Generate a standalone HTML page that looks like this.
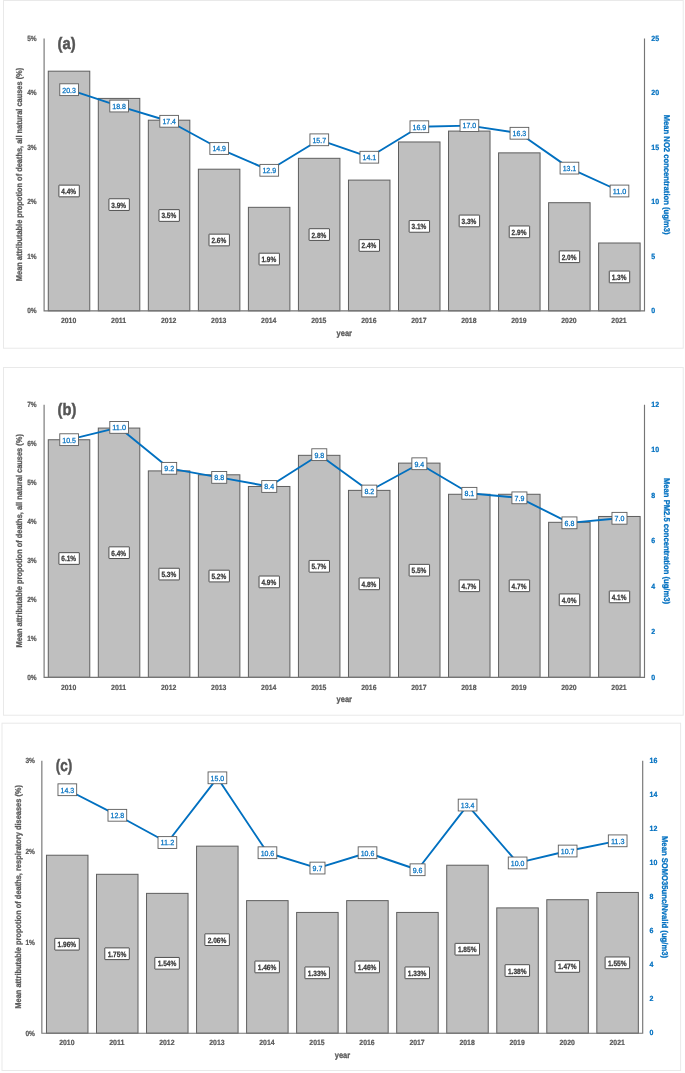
<!DOCTYPE html>
<html><head><meta charset="utf-8"><title>chart</title>
<style>
html,body{margin:0;padding:0;background:#fff;}
body{width:685px;height:1073px;overflow:hidden;font-family:"Liberation Sans",sans-serif;}
svg{display:block;will-change:transform;opacity:0.999;text-rendering:geometricPrecision;filter:blur(0.35px);}
</style></head><body>
<svg width="685" height="1073" viewBox="0 0 685 1073">
<rect x="0" y="0" width="685" height="1073" fill="#ffffff"/>
<rect x="3.5" y="0.5" width="679.7" height="347.7" fill="#fff" stroke="#e9e9e9" stroke-width="1"/>
<rect x="48.27" y="71.18" width="41.5" height="239.62" fill="#bfbfbf" stroke="#5e5e5e" stroke-width="1"/>
<rect x="98.30" y="98.41" width="41.5" height="212.39" fill="#bfbfbf" stroke="#5e5e5e" stroke-width="1"/>
<rect x="148.33" y="120.19" width="41.5" height="190.61" fill="#bfbfbf" stroke="#5e5e5e" stroke-width="1"/>
<rect x="198.37" y="169.20" width="41.5" height="141.60" fill="#bfbfbf" stroke="#5e5e5e" stroke-width="1"/>
<rect x="248.40" y="207.33" width="41.5" height="103.47" fill="#bfbfbf" stroke="#5e5e5e" stroke-width="1"/>
<rect x="298.43" y="158.31" width="41.5" height="152.49" fill="#bfbfbf" stroke="#5e5e5e" stroke-width="1"/>
<rect x="348.47" y="180.10" width="41.5" height="130.70" fill="#bfbfbf" stroke="#5e5e5e" stroke-width="1"/>
<rect x="398.50" y="141.97" width="41.5" height="168.83" fill="#bfbfbf" stroke="#5e5e5e" stroke-width="1"/>
<rect x="448.53" y="131.08" width="41.5" height="179.72" fill="#bfbfbf" stroke="#5e5e5e" stroke-width="1"/>
<rect x="498.57" y="152.87" width="41.5" height="157.93" fill="#bfbfbf" stroke="#5e5e5e" stroke-width="1"/>
<rect x="548.60" y="202.70" width="41.5" height="108.10" fill="#bfbfbf" stroke="#5e5e5e" stroke-width="1"/>
<rect x="598.63" y="243.00" width="41.5" height="67.80" fill="#bfbfbf" stroke="#5e5e5e" stroke-width="1"/>
<path d="M44.10 38.50V310.80H644.50V38.50" fill="none" stroke="#757575" stroke-width="1.15"/>
<polyline points="69.12,89.69 119.15,106.03 169.18,121.28 219.22,148.51 269.25,170.29 319.28,139.80 369.32,157.22 419.35,126.73 469.38,125.64 519.42,133.26 569.45,168.11 619.48,190.99" fill="none" stroke="#0070C0" stroke-width="1.9" stroke-linejoin="round" stroke-linecap="round"/>
<rect x="58.92" y="185.14" width="20.4" height="11.7" rx="0.3" fill="#fff" stroke="#484848" stroke-width="0.95"/>
<text x="68.72" y="193.94" font-family="Liberation Sans, sans-serif" font-size="7.7" font-weight="bold" fill="#383838" stroke="#383838" stroke-width="0.25" text-anchor="middle" textLength="14.8" lengthAdjust="spacingAndGlyphs">4.4%</text>
<rect x="108.95" y="198.75" width="20.4" height="11.7" rx="0.3" fill="#fff" stroke="#484848" stroke-width="0.95"/>
<text x="118.75" y="207.55" font-family="Liberation Sans, sans-serif" font-size="7.7" font-weight="bold" fill="#383838" stroke="#383838" stroke-width="0.25" text-anchor="middle" textLength="14.8" lengthAdjust="spacingAndGlyphs">3.9%</text>
<rect x="158.98" y="209.65" width="20.4" height="11.7" rx="0.3" fill="#fff" stroke="#484848" stroke-width="0.95"/>
<text x="168.78" y="218.44" font-family="Liberation Sans, sans-serif" font-size="7.7" font-weight="bold" fill="#383838" stroke="#383838" stroke-width="0.25" text-anchor="middle" textLength="14.8" lengthAdjust="spacingAndGlyphs">3.5%</text>
<rect x="209.02" y="234.15" width="20.4" height="11.7" rx="0.3" fill="#fff" stroke="#484848" stroke-width="0.95"/>
<text x="218.82" y="242.95" font-family="Liberation Sans, sans-serif" font-size="7.7" font-weight="bold" fill="#383838" stroke="#383838" stroke-width="0.25" text-anchor="middle" textLength="14.8" lengthAdjust="spacingAndGlyphs">2.6%</text>
<rect x="259.05" y="253.21" width="20.4" height="11.7" rx="0.3" fill="#fff" stroke="#484848" stroke-width="0.95"/>
<text x="268.85" y="262.01" font-family="Liberation Sans, sans-serif" font-size="7.7" font-weight="bold" fill="#383838" stroke="#383838" stroke-width="0.25" text-anchor="middle" textLength="14.8" lengthAdjust="spacingAndGlyphs">1.9%</text>
<rect x="309.08" y="228.71" width="20.4" height="11.7" rx="0.3" fill="#fff" stroke="#484848" stroke-width="0.95"/>
<text x="318.88" y="237.51" font-family="Liberation Sans, sans-serif" font-size="7.7" font-weight="bold" fill="#383838" stroke="#383838" stroke-width="0.25" text-anchor="middle" textLength="14.8" lengthAdjust="spacingAndGlyphs">2.8%</text>
<rect x="359.12" y="239.60" width="20.4" height="11.7" rx="0.3" fill="#fff" stroke="#484848" stroke-width="0.95"/>
<text x="368.92" y="248.40" font-family="Liberation Sans, sans-serif" font-size="7.7" font-weight="bold" fill="#383838" stroke="#383838" stroke-width="0.25" text-anchor="middle" textLength="14.8" lengthAdjust="spacingAndGlyphs">2.4%</text>
<rect x="409.15" y="220.54" width="20.4" height="11.7" rx="0.3" fill="#fff" stroke="#484848" stroke-width="0.95"/>
<text x="418.95" y="229.34" font-family="Liberation Sans, sans-serif" font-size="7.7" font-weight="bold" fill="#383838" stroke="#383838" stroke-width="0.25" text-anchor="middle" textLength="14.8" lengthAdjust="spacingAndGlyphs">3.1%</text>
<rect x="459.18" y="215.09" width="20.4" height="11.7" rx="0.3" fill="#fff" stroke="#484848" stroke-width="0.95"/>
<text x="468.98" y="223.89" font-family="Liberation Sans, sans-serif" font-size="7.7" font-weight="bold" fill="#383838" stroke="#383838" stroke-width="0.25" text-anchor="middle" textLength="14.8" lengthAdjust="spacingAndGlyphs">3.3%</text>
<rect x="509.22" y="225.98" width="20.4" height="11.7" rx="0.3" fill="#fff" stroke="#484848" stroke-width="0.95"/>
<text x="519.02" y="234.78" font-family="Liberation Sans, sans-serif" font-size="7.7" font-weight="bold" fill="#383838" stroke="#383838" stroke-width="0.25" text-anchor="middle" textLength="14.8" lengthAdjust="spacingAndGlyphs">2.9%</text>
<rect x="559.25" y="250.90" width="20.4" height="11.7" rx="0.3" fill="#fff" stroke="#484848" stroke-width="0.95"/>
<text x="569.05" y="259.70" font-family="Liberation Sans, sans-serif" font-size="7.7" font-weight="bold" fill="#383838" stroke="#383838" stroke-width="0.25" text-anchor="middle" textLength="14.8" lengthAdjust="spacingAndGlyphs">2.0%</text>
<rect x="609.28" y="271.05" width="20.4" height="11.7" rx="0.3" fill="#fff" stroke="#484848" stroke-width="0.95"/>
<text x="619.08" y="279.85" font-family="Liberation Sans, sans-serif" font-size="7.7" font-weight="bold" fill="#383838" stroke="#383838" stroke-width="0.25" text-anchor="middle" textLength="14.8" lengthAdjust="spacingAndGlyphs">1.3%</text>
<rect x="59.77" y="83.79" width="18.7" height="11.8" fill="#fff" stroke="#5c5c5c" stroke-width="0.9"/>
<text x="69.12" y="92.54" font-family="Liberation Sans, sans-serif" font-size="7.4" fill="#0070C0" stroke="#0070C0" stroke-width="0.25" text-anchor="middle" textLength="13.6" lengthAdjust="spacingAndGlyphs">20.3</text>
<rect x="109.80" y="100.13" width="18.7" height="11.8" fill="#fff" stroke="#5c5c5c" stroke-width="0.9"/>
<text x="119.15" y="108.88" font-family="Liberation Sans, sans-serif" font-size="7.4" fill="#0070C0" stroke="#0070C0" stroke-width="0.25" text-anchor="middle" textLength="13.6" lengthAdjust="spacingAndGlyphs">18.8</text>
<rect x="159.83" y="115.38" width="18.7" height="11.8" fill="#fff" stroke="#5c5c5c" stroke-width="0.9"/>
<text x="169.18" y="124.13" font-family="Liberation Sans, sans-serif" font-size="7.4" fill="#0070C0" stroke="#0070C0" stroke-width="0.25" text-anchor="middle" textLength="13.6" lengthAdjust="spacingAndGlyphs">17.4</text>
<rect x="209.87" y="142.61" width="18.7" height="11.8" fill="#fff" stroke="#5c5c5c" stroke-width="0.9"/>
<text x="219.22" y="151.36" font-family="Liberation Sans, sans-serif" font-size="7.4" fill="#0070C0" stroke="#0070C0" stroke-width="0.25" text-anchor="middle" textLength="13.6" lengthAdjust="spacingAndGlyphs">14.9</text>
<rect x="259.90" y="164.39" width="18.7" height="11.8" fill="#fff" stroke="#5c5c5c" stroke-width="0.9"/>
<text x="269.25" y="173.14" font-family="Liberation Sans, sans-serif" font-size="7.4" fill="#0070C0" stroke="#0070C0" stroke-width="0.25" text-anchor="middle" textLength="13.6" lengthAdjust="spacingAndGlyphs">12.9</text>
<rect x="309.93" y="133.90" width="18.7" height="11.8" fill="#fff" stroke="#5c5c5c" stroke-width="0.9"/>
<text x="319.28" y="142.65" font-family="Liberation Sans, sans-serif" font-size="7.4" fill="#0070C0" stroke="#0070C0" stroke-width="0.25" text-anchor="middle" textLength="13.6" lengthAdjust="spacingAndGlyphs">15.7</text>
<rect x="359.97" y="151.32" width="18.7" height="11.8" fill="#fff" stroke="#5c5c5c" stroke-width="0.9"/>
<text x="369.32" y="160.07" font-family="Liberation Sans, sans-serif" font-size="7.4" fill="#0070C0" stroke="#0070C0" stroke-width="0.25" text-anchor="middle" textLength="13.6" lengthAdjust="spacingAndGlyphs">14.1</text>
<rect x="410.00" y="120.83" width="18.7" height="11.8" fill="#fff" stroke="#5c5c5c" stroke-width="0.9"/>
<text x="419.35" y="129.58" font-family="Liberation Sans, sans-serif" font-size="7.4" fill="#0070C0" stroke="#0070C0" stroke-width="0.25" text-anchor="middle" textLength="13.6" lengthAdjust="spacingAndGlyphs">16.9</text>
<rect x="460.03" y="119.74" width="18.7" height="11.8" fill="#fff" stroke="#5c5c5c" stroke-width="0.9"/>
<text x="469.38" y="128.49" font-family="Liberation Sans, sans-serif" font-size="7.4" fill="#0070C0" stroke="#0070C0" stroke-width="0.25" text-anchor="middle" textLength="13.6" lengthAdjust="spacingAndGlyphs">17.0</text>
<rect x="510.07" y="127.36" width="18.7" height="11.8" fill="#fff" stroke="#5c5c5c" stroke-width="0.9"/>
<text x="519.42" y="136.11" font-family="Liberation Sans, sans-serif" font-size="7.4" fill="#0070C0" stroke="#0070C0" stroke-width="0.25" text-anchor="middle" textLength="13.6" lengthAdjust="spacingAndGlyphs">16.3</text>
<rect x="560.10" y="162.21" width="18.7" height="11.8" fill="#fff" stroke="#5c5c5c" stroke-width="0.9"/>
<text x="569.45" y="170.96" font-family="Liberation Sans, sans-serif" font-size="7.4" fill="#0070C0" stroke="#0070C0" stroke-width="0.25" text-anchor="middle" textLength="13.6" lengthAdjust="spacingAndGlyphs">13.1</text>
<rect x="610.13" y="185.09" width="18.7" height="11.8" fill="#fff" stroke="#5c5c5c" stroke-width="0.9"/>
<text x="619.48" y="193.84" font-family="Liberation Sans, sans-serif" font-size="7.4" fill="#0070C0" stroke="#0070C0" stroke-width="0.25" text-anchor="middle" textLength="13.6" lengthAdjust="spacingAndGlyphs">11.0</text>
<text x="36.70" y="313.30" font-family="Liberation Sans, sans-serif" font-size="7.5" font-weight="bold" fill="#595959" stroke="#595959" stroke-width="0.22" text-anchor="end" textLength="9.5" lengthAdjust="spacingAndGlyphs">0%</text>
<text x="36.70" y="258.84" font-family="Liberation Sans, sans-serif" font-size="7.5" font-weight="bold" fill="#595959" stroke="#595959" stroke-width="0.22" text-anchor="end" textLength="9.5" lengthAdjust="spacingAndGlyphs">1%</text>
<text x="36.70" y="204.38" font-family="Liberation Sans, sans-serif" font-size="7.5" font-weight="bold" fill="#595959" stroke="#595959" stroke-width="0.22" text-anchor="end" textLength="9.5" lengthAdjust="spacingAndGlyphs">2%</text>
<text x="36.70" y="149.92" font-family="Liberation Sans, sans-serif" font-size="7.5" font-weight="bold" fill="#595959" stroke="#595959" stroke-width="0.22" text-anchor="end" textLength="9.5" lengthAdjust="spacingAndGlyphs">3%</text>
<text x="36.70" y="95.46" font-family="Liberation Sans, sans-serif" font-size="7.5" font-weight="bold" fill="#595959" stroke="#595959" stroke-width="0.22" text-anchor="end" textLength="9.5" lengthAdjust="spacingAndGlyphs">4%</text>
<text x="36.70" y="41.00" font-family="Liberation Sans, sans-serif" font-size="7.5" font-weight="bold" fill="#595959" stroke="#595959" stroke-width="0.22" text-anchor="end" textLength="9.5" lengthAdjust="spacingAndGlyphs">5%</text>
<text x="651.30" y="313.05" font-family="Liberation Sans, sans-serif" font-size="7.5" font-weight="bold" fill="#0070C0" stroke="#0070C0" stroke-width="0.22" textLength="3.9" lengthAdjust="spacingAndGlyphs">0</text>
<text x="651.30" y="258.59" font-family="Liberation Sans, sans-serif" font-size="7.5" font-weight="bold" fill="#0070C0" stroke="#0070C0" stroke-width="0.22" textLength="3.9" lengthAdjust="spacingAndGlyphs">5</text>
<text x="651.30" y="204.13" font-family="Liberation Sans, sans-serif" font-size="7.5" font-weight="bold" fill="#0070C0" stroke="#0070C0" stroke-width="0.22" textLength="7.8" lengthAdjust="spacingAndGlyphs">10</text>
<text x="651.30" y="149.67" font-family="Liberation Sans, sans-serif" font-size="7.5" font-weight="bold" fill="#0070C0" stroke="#0070C0" stroke-width="0.22" textLength="7.8" lengthAdjust="spacingAndGlyphs">15</text>
<text x="651.30" y="95.21" font-family="Liberation Sans, sans-serif" font-size="7.5" font-weight="bold" fill="#0070C0" stroke="#0070C0" stroke-width="0.22" textLength="7.8" lengthAdjust="spacingAndGlyphs">20</text>
<text x="651.30" y="40.75" font-family="Liberation Sans, sans-serif" font-size="7.5" font-weight="bold" fill="#0070C0" stroke="#0070C0" stroke-width="0.22" textLength="7.8" lengthAdjust="spacingAndGlyphs">25</text>
<text x="68.62" y="323.00" font-family="Liberation Sans, sans-serif" font-size="7.5" font-weight="bold" fill="#595959" stroke="#595959" stroke-width="0.22" text-anchor="middle" textLength="15.3" lengthAdjust="spacingAndGlyphs">2010</text>
<text x="118.65" y="323.00" font-family="Liberation Sans, sans-serif" font-size="7.5" font-weight="bold" fill="#595959" stroke="#595959" stroke-width="0.22" text-anchor="middle" textLength="15.3" lengthAdjust="spacingAndGlyphs">2011</text>
<text x="168.68" y="323.00" font-family="Liberation Sans, sans-serif" font-size="7.5" font-weight="bold" fill="#595959" stroke="#595959" stroke-width="0.22" text-anchor="middle" textLength="15.3" lengthAdjust="spacingAndGlyphs">2012</text>
<text x="218.72" y="323.00" font-family="Liberation Sans, sans-serif" font-size="7.5" font-weight="bold" fill="#595959" stroke="#595959" stroke-width="0.22" text-anchor="middle" textLength="15.3" lengthAdjust="spacingAndGlyphs">2013</text>
<text x="268.75" y="323.00" font-family="Liberation Sans, sans-serif" font-size="7.5" font-weight="bold" fill="#595959" stroke="#595959" stroke-width="0.22" text-anchor="middle" textLength="15.3" lengthAdjust="spacingAndGlyphs">2014</text>
<text x="318.78" y="323.00" font-family="Liberation Sans, sans-serif" font-size="7.5" font-weight="bold" fill="#595959" stroke="#595959" stroke-width="0.22" text-anchor="middle" textLength="15.3" lengthAdjust="spacingAndGlyphs">2015</text>
<text x="368.82" y="323.00" font-family="Liberation Sans, sans-serif" font-size="7.5" font-weight="bold" fill="#595959" stroke="#595959" stroke-width="0.22" text-anchor="middle" textLength="15.3" lengthAdjust="spacingAndGlyphs">2016</text>
<text x="418.85" y="323.00" font-family="Liberation Sans, sans-serif" font-size="7.5" font-weight="bold" fill="#595959" stroke="#595959" stroke-width="0.22" text-anchor="middle" textLength="15.3" lengthAdjust="spacingAndGlyphs">2017</text>
<text x="468.88" y="323.00" font-family="Liberation Sans, sans-serif" font-size="7.5" font-weight="bold" fill="#595959" stroke="#595959" stroke-width="0.22" text-anchor="middle" textLength="15.3" lengthAdjust="spacingAndGlyphs">2018</text>
<text x="518.92" y="323.00" font-family="Liberation Sans, sans-serif" font-size="7.5" font-weight="bold" fill="#595959" stroke="#595959" stroke-width="0.22" text-anchor="middle" textLength="15.3" lengthAdjust="spacingAndGlyphs">2019</text>
<text x="568.95" y="323.00" font-family="Liberation Sans, sans-serif" font-size="7.5" font-weight="bold" fill="#595959" stroke="#595959" stroke-width="0.22" text-anchor="middle" textLength="15.3" lengthAdjust="spacingAndGlyphs">2020</text>
<text x="618.98" y="323.00" font-family="Liberation Sans, sans-serif" font-size="7.5" font-weight="bold" fill="#595959" stroke="#595959" stroke-width="0.22" text-anchor="middle" textLength="15.3" lengthAdjust="spacingAndGlyphs">2021</text>
<text x="344.30" y="335.60" font-family="Liberation Sans, sans-serif" font-size="8.4" font-weight="bold" fill="#595959" stroke="#595959" stroke-width="0.28" text-anchor="middle" textLength="15.4" lengthAdjust="spacingAndGlyphs">year</text>
<text x="57.50" y="49.00" font-family="Liberation Sans, sans-serif" font-size="16.6" font-weight="bold" fill="#555" stroke="#555" stroke-width="0.45" textLength="18.1" lengthAdjust="spacingAndGlyphs">(a)</text>
<text transform="translate(22.35 174.50) rotate(-90)" x="0" y="0" font-family="Liberation Sans, sans-serif" font-size="8.4" font-weight="bold" fill="#595959" stroke="#595959" stroke-width="0.28" text-anchor="middle" textLength="213.4" lengthAdjust="spacingAndGlyphs">Mean attributable propotion of deaths, all natural causes (%)</text>
<text transform="translate(663.70 174.65) rotate(90)" x="0" y="0" font-family="Liberation Sans, sans-serif" font-size="8.4" font-weight="bold" fill="#0070C0" stroke="#0070C0" stroke-width="0.28" text-anchor="middle" textLength="120" lengthAdjust="spacingAndGlyphs">Mean NO2 concentration (ug/m3)</text>
<rect x="3.5" y="367.5" width="679.7" height="347.7" fill="#fff" stroke="#e9e9e9" stroke-width="1"/>
<rect x="48.27" y="439.75" width="41.5" height="237.55" fill="#bfbfbf" stroke="#5e5e5e" stroke-width="1"/>
<rect x="98.30" y="428.07" width="41.5" height="249.23" fill="#bfbfbf" stroke="#5e5e5e" stroke-width="1"/>
<rect x="148.33" y="470.90" width="41.5" height="206.40" fill="#bfbfbf" stroke="#5e5e5e" stroke-width="1"/>
<rect x="198.37" y="474.80" width="41.5" height="202.50" fill="#bfbfbf" stroke="#5e5e5e" stroke-width="1"/>
<rect x="248.40" y="486.48" width="41.5" height="190.82" fill="#bfbfbf" stroke="#5e5e5e" stroke-width="1"/>
<rect x="298.43" y="455.33" width="41.5" height="221.97" fill="#bfbfbf" stroke="#5e5e5e" stroke-width="1"/>
<rect x="348.47" y="490.37" width="41.5" height="186.93" fill="#bfbfbf" stroke="#5e5e5e" stroke-width="1"/>
<rect x="398.50" y="463.11" width="41.5" height="214.19" fill="#bfbfbf" stroke="#5e5e5e" stroke-width="1"/>
<rect x="448.53" y="494.27" width="41.5" height="183.03" fill="#bfbfbf" stroke="#5e5e5e" stroke-width="1"/>
<rect x="498.57" y="494.27" width="41.5" height="183.03" fill="#bfbfbf" stroke="#5e5e5e" stroke-width="1"/>
<rect x="548.60" y="522.31" width="41.5" height="154.99" fill="#bfbfbf" stroke="#5e5e5e" stroke-width="1"/>
<rect x="598.63" y="516.47" width="41.5" height="160.83" fill="#bfbfbf" stroke="#5e5e5e" stroke-width="1"/>
<path d="M44.10 404.70V677.30H644.50V404.70" fill="none" stroke="#757575" stroke-width="1.15"/>
<polyline points="69.12,439.68 119.15,427.42 169.18,468.31 219.22,477.39 269.25,486.48 319.28,454.68 369.32,491.02 419.35,463.76 469.38,493.29 519.42,497.84 569.45,522.83 619.48,518.28" fill="none" stroke="#0070C0" stroke-width="1.9" stroke-linejoin="round" stroke-linecap="round"/>
<rect x="58.92" y="552.67" width="20.4" height="11.7" rx="0.3" fill="#fff" stroke="#484848" stroke-width="0.95"/>
<text x="68.72" y="561.47" font-family="Liberation Sans, sans-serif" font-size="7.7" font-weight="bold" fill="#383838" stroke="#383838" stroke-width="0.25" text-anchor="middle" textLength="14.8" lengthAdjust="spacingAndGlyphs">6.1%</text>
<rect x="108.95" y="546.83" width="20.4" height="11.7" rx="0.3" fill="#fff" stroke="#484848" stroke-width="0.95"/>
<text x="118.75" y="555.63" font-family="Liberation Sans, sans-serif" font-size="7.7" font-weight="bold" fill="#383838" stroke="#383838" stroke-width="0.25" text-anchor="middle" textLength="14.8" lengthAdjust="spacingAndGlyphs">6.4%</text>
<rect x="158.98" y="568.25" width="20.4" height="11.7" rx="0.3" fill="#fff" stroke="#484848" stroke-width="0.95"/>
<text x="168.78" y="577.05" font-family="Liberation Sans, sans-serif" font-size="7.7" font-weight="bold" fill="#383838" stroke="#383838" stroke-width="0.25" text-anchor="middle" textLength="14.8" lengthAdjust="spacingAndGlyphs">5.3%</text>
<rect x="209.02" y="570.20" width="20.4" height="11.7" rx="0.3" fill="#fff" stroke="#484848" stroke-width="0.95"/>
<text x="218.82" y="579.00" font-family="Liberation Sans, sans-serif" font-size="7.7" font-weight="bold" fill="#383838" stroke="#383838" stroke-width="0.25" text-anchor="middle" textLength="14.8" lengthAdjust="spacingAndGlyphs">5.2%</text>
<rect x="259.05" y="576.04" width="20.4" height="11.7" rx="0.3" fill="#fff" stroke="#484848" stroke-width="0.95"/>
<text x="268.85" y="584.84" font-family="Liberation Sans, sans-serif" font-size="7.7" font-weight="bold" fill="#383838" stroke="#383838" stroke-width="0.25" text-anchor="middle" textLength="14.8" lengthAdjust="spacingAndGlyphs">4.9%</text>
<rect x="309.08" y="560.46" width="20.4" height="11.7" rx="0.3" fill="#fff" stroke="#484848" stroke-width="0.95"/>
<text x="318.88" y="569.26" font-family="Liberation Sans, sans-serif" font-size="7.7" font-weight="bold" fill="#383838" stroke="#383838" stroke-width="0.25" text-anchor="middle" textLength="14.8" lengthAdjust="spacingAndGlyphs">5.7%</text>
<rect x="359.12" y="577.99" width="20.4" height="11.7" rx="0.3" fill="#fff" stroke="#484848" stroke-width="0.95"/>
<text x="368.92" y="586.79" font-family="Liberation Sans, sans-serif" font-size="7.7" font-weight="bold" fill="#383838" stroke="#383838" stroke-width="0.25" text-anchor="middle" textLength="14.8" lengthAdjust="spacingAndGlyphs">4.8%</text>
<rect x="409.15" y="564.36" width="20.4" height="11.7" rx="0.3" fill="#fff" stroke="#484848" stroke-width="0.95"/>
<text x="418.95" y="573.16" font-family="Liberation Sans, sans-serif" font-size="7.7" font-weight="bold" fill="#383838" stroke="#383838" stroke-width="0.25" text-anchor="middle" textLength="14.8" lengthAdjust="spacingAndGlyphs">5.5%</text>
<rect x="459.18" y="579.93" width="20.4" height="11.7" rx="0.3" fill="#fff" stroke="#484848" stroke-width="0.95"/>
<text x="468.98" y="588.73" font-family="Liberation Sans, sans-serif" font-size="7.7" font-weight="bold" fill="#383838" stroke="#383838" stroke-width="0.25" text-anchor="middle" textLength="14.8" lengthAdjust="spacingAndGlyphs">4.7%</text>
<rect x="509.22" y="579.93" width="20.4" height="11.7" rx="0.3" fill="#fff" stroke="#484848" stroke-width="0.95"/>
<text x="519.02" y="588.73" font-family="Liberation Sans, sans-serif" font-size="7.7" font-weight="bold" fill="#383838" stroke="#383838" stroke-width="0.25" text-anchor="middle" textLength="14.8" lengthAdjust="spacingAndGlyphs">4.7%</text>
<rect x="559.25" y="593.95" width="20.4" height="11.7" rx="0.3" fill="#fff" stroke="#484848" stroke-width="0.95"/>
<text x="569.05" y="602.75" font-family="Liberation Sans, sans-serif" font-size="7.7" font-weight="bold" fill="#383838" stroke="#383838" stroke-width="0.25" text-anchor="middle" textLength="14.8" lengthAdjust="spacingAndGlyphs">4.0%</text>
<rect x="609.28" y="591.03" width="20.4" height="11.7" rx="0.3" fill="#fff" stroke="#484848" stroke-width="0.95"/>
<text x="619.08" y="599.83" font-family="Liberation Sans, sans-serif" font-size="7.7" font-weight="bold" fill="#383838" stroke="#383838" stroke-width="0.25" text-anchor="middle" textLength="14.8" lengthAdjust="spacingAndGlyphs">4.1%</text>
<rect x="59.77" y="433.78" width="18.7" height="11.8" fill="#fff" stroke="#5c5c5c" stroke-width="0.9"/>
<text x="69.12" y="442.53" font-family="Liberation Sans, sans-serif" font-size="7.4" fill="#0070C0" stroke="#0070C0" stroke-width="0.25" text-anchor="middle" textLength="13.6" lengthAdjust="spacingAndGlyphs">10.5</text>
<rect x="109.80" y="421.52" width="18.7" height="11.8" fill="#fff" stroke="#5c5c5c" stroke-width="0.9"/>
<text x="119.15" y="430.27" font-family="Liberation Sans, sans-serif" font-size="7.4" fill="#0070C0" stroke="#0070C0" stroke-width="0.25" text-anchor="middle" textLength="13.6" lengthAdjust="spacingAndGlyphs">11.0</text>
<rect x="161.68" y="462.41" width="15.0" height="11.8" fill="#fff" stroke="#5c5c5c" stroke-width="0.9"/>
<text x="169.18" y="471.16" font-family="Liberation Sans, sans-serif" font-size="7.4" fill="#0070C0" stroke="#0070C0" stroke-width="0.25" text-anchor="middle" textLength="9.8" lengthAdjust="spacingAndGlyphs">9.2</text>
<rect x="211.72" y="471.49" width="15.0" height="11.8" fill="#fff" stroke="#5c5c5c" stroke-width="0.9"/>
<text x="219.22" y="480.24" font-family="Liberation Sans, sans-serif" font-size="7.4" fill="#0070C0" stroke="#0070C0" stroke-width="0.25" text-anchor="middle" textLength="9.8" lengthAdjust="spacingAndGlyphs">8.8</text>
<rect x="261.75" y="480.58" width="15.0" height="11.8" fill="#fff" stroke="#5c5c5c" stroke-width="0.9"/>
<text x="269.25" y="489.33" font-family="Liberation Sans, sans-serif" font-size="7.4" fill="#0070C0" stroke="#0070C0" stroke-width="0.25" text-anchor="middle" textLength="9.8" lengthAdjust="spacingAndGlyphs">8.4</text>
<rect x="311.78" y="448.78" width="15.0" height="11.8" fill="#fff" stroke="#5c5c5c" stroke-width="0.9"/>
<text x="319.28" y="457.53" font-family="Liberation Sans, sans-serif" font-size="7.4" fill="#0070C0" stroke="#0070C0" stroke-width="0.25" text-anchor="middle" textLength="9.8" lengthAdjust="spacingAndGlyphs">9.8</text>
<rect x="361.82" y="485.12" width="15.0" height="11.8" fill="#fff" stroke="#5c5c5c" stroke-width="0.9"/>
<text x="369.32" y="493.87" font-family="Liberation Sans, sans-serif" font-size="7.4" fill="#0070C0" stroke="#0070C0" stroke-width="0.25" text-anchor="middle" textLength="9.8" lengthAdjust="spacingAndGlyphs">8.2</text>
<rect x="411.85" y="457.86" width="15.0" height="11.8" fill="#fff" stroke="#5c5c5c" stroke-width="0.9"/>
<text x="419.35" y="466.61" font-family="Liberation Sans, sans-serif" font-size="7.4" fill="#0070C0" stroke="#0070C0" stroke-width="0.25" text-anchor="middle" textLength="9.8" lengthAdjust="spacingAndGlyphs">9.4</text>
<rect x="461.88" y="487.39" width="15.0" height="11.8" fill="#fff" stroke="#5c5c5c" stroke-width="0.9"/>
<text x="469.38" y="496.14" font-family="Liberation Sans, sans-serif" font-size="7.4" fill="#0070C0" stroke="#0070C0" stroke-width="0.25" text-anchor="middle" textLength="9.8" lengthAdjust="spacingAndGlyphs">8.1</text>
<rect x="511.92" y="491.94" width="15.0" height="11.8" fill="#fff" stroke="#5c5c5c" stroke-width="0.9"/>
<text x="519.42" y="500.69" font-family="Liberation Sans, sans-serif" font-size="7.4" fill="#0070C0" stroke="#0070C0" stroke-width="0.25" text-anchor="middle" textLength="9.8" lengthAdjust="spacingAndGlyphs">7.9</text>
<rect x="561.95" y="516.93" width="15.0" height="11.8" fill="#fff" stroke="#5c5c5c" stroke-width="0.9"/>
<text x="569.45" y="525.68" font-family="Liberation Sans, sans-serif" font-size="7.4" fill="#0070C0" stroke="#0070C0" stroke-width="0.25" text-anchor="middle" textLength="9.8" lengthAdjust="spacingAndGlyphs">6.8</text>
<rect x="611.98" y="512.38" width="15.0" height="11.8" fill="#fff" stroke="#5c5c5c" stroke-width="0.9"/>
<text x="619.48" y="521.13" font-family="Liberation Sans, sans-serif" font-size="7.4" fill="#0070C0" stroke="#0070C0" stroke-width="0.25" text-anchor="middle" textLength="9.8" lengthAdjust="spacingAndGlyphs">7.0</text>
<text x="36.70" y="679.80" font-family="Liberation Sans, sans-serif" font-size="7.5" font-weight="bold" fill="#595959" stroke="#595959" stroke-width="0.22" text-anchor="end" textLength="9.5" lengthAdjust="spacingAndGlyphs">0%</text>
<text x="36.70" y="640.86" font-family="Liberation Sans, sans-serif" font-size="7.5" font-weight="bold" fill="#595959" stroke="#595959" stroke-width="0.22" text-anchor="end" textLength="9.5" lengthAdjust="spacingAndGlyphs">1%</text>
<text x="36.70" y="601.91" font-family="Liberation Sans, sans-serif" font-size="7.5" font-weight="bold" fill="#595959" stroke="#595959" stroke-width="0.22" text-anchor="end" textLength="9.5" lengthAdjust="spacingAndGlyphs">2%</text>
<text x="36.70" y="562.97" font-family="Liberation Sans, sans-serif" font-size="7.5" font-weight="bold" fill="#595959" stroke="#595959" stroke-width="0.22" text-anchor="end" textLength="9.5" lengthAdjust="spacingAndGlyphs">3%</text>
<text x="36.70" y="524.03" font-family="Liberation Sans, sans-serif" font-size="7.5" font-weight="bold" fill="#595959" stroke="#595959" stroke-width="0.22" text-anchor="end" textLength="9.5" lengthAdjust="spacingAndGlyphs">4%</text>
<text x="36.70" y="485.09" font-family="Liberation Sans, sans-serif" font-size="7.5" font-weight="bold" fill="#595959" stroke="#595959" stroke-width="0.22" text-anchor="end" textLength="9.5" lengthAdjust="spacingAndGlyphs">5%</text>
<text x="36.70" y="446.14" font-family="Liberation Sans, sans-serif" font-size="7.5" font-weight="bold" fill="#595959" stroke="#595959" stroke-width="0.22" text-anchor="end" textLength="9.5" lengthAdjust="spacingAndGlyphs">6%</text>
<text x="36.70" y="407.20" font-family="Liberation Sans, sans-serif" font-size="7.5" font-weight="bold" fill="#595959" stroke="#595959" stroke-width="0.22" text-anchor="end" textLength="9.5" lengthAdjust="spacingAndGlyphs">7%</text>
<text x="651.30" y="679.55" font-family="Liberation Sans, sans-serif" font-size="7.5" font-weight="bold" fill="#0070C0" stroke="#0070C0" stroke-width="0.22" textLength="3.9" lengthAdjust="spacingAndGlyphs">0</text>
<text x="651.30" y="634.12" font-family="Liberation Sans, sans-serif" font-size="7.5" font-weight="bold" fill="#0070C0" stroke="#0070C0" stroke-width="0.22" textLength="3.9" lengthAdjust="spacingAndGlyphs">2</text>
<text x="651.30" y="588.68" font-family="Liberation Sans, sans-serif" font-size="7.5" font-weight="bold" fill="#0070C0" stroke="#0070C0" stroke-width="0.22" textLength="3.9" lengthAdjust="spacingAndGlyphs">4</text>
<text x="651.30" y="543.25" font-family="Liberation Sans, sans-serif" font-size="7.5" font-weight="bold" fill="#0070C0" stroke="#0070C0" stroke-width="0.22" textLength="3.9" lengthAdjust="spacingAndGlyphs">6</text>
<text x="651.30" y="497.82" font-family="Liberation Sans, sans-serif" font-size="7.5" font-weight="bold" fill="#0070C0" stroke="#0070C0" stroke-width="0.22" textLength="3.9" lengthAdjust="spacingAndGlyphs">8</text>
<text x="651.30" y="452.38" font-family="Liberation Sans, sans-serif" font-size="7.5" font-weight="bold" fill="#0070C0" stroke="#0070C0" stroke-width="0.22" textLength="7.8" lengthAdjust="spacingAndGlyphs">10</text>
<text x="651.30" y="406.95" font-family="Liberation Sans, sans-serif" font-size="7.5" font-weight="bold" fill="#0070C0" stroke="#0070C0" stroke-width="0.22" textLength="7.8" lengthAdjust="spacingAndGlyphs">12</text>
<text x="68.62" y="689.50" font-family="Liberation Sans, sans-serif" font-size="7.5" font-weight="bold" fill="#595959" stroke="#595959" stroke-width="0.22" text-anchor="middle" textLength="15.3" lengthAdjust="spacingAndGlyphs">2010</text>
<text x="118.65" y="689.50" font-family="Liberation Sans, sans-serif" font-size="7.5" font-weight="bold" fill="#595959" stroke="#595959" stroke-width="0.22" text-anchor="middle" textLength="15.3" lengthAdjust="spacingAndGlyphs">2011</text>
<text x="168.68" y="689.50" font-family="Liberation Sans, sans-serif" font-size="7.5" font-weight="bold" fill="#595959" stroke="#595959" stroke-width="0.22" text-anchor="middle" textLength="15.3" lengthAdjust="spacingAndGlyphs">2012</text>
<text x="218.72" y="689.50" font-family="Liberation Sans, sans-serif" font-size="7.5" font-weight="bold" fill="#595959" stroke="#595959" stroke-width="0.22" text-anchor="middle" textLength="15.3" lengthAdjust="spacingAndGlyphs">2013</text>
<text x="268.75" y="689.50" font-family="Liberation Sans, sans-serif" font-size="7.5" font-weight="bold" fill="#595959" stroke="#595959" stroke-width="0.22" text-anchor="middle" textLength="15.3" lengthAdjust="spacingAndGlyphs">2014</text>
<text x="318.78" y="689.50" font-family="Liberation Sans, sans-serif" font-size="7.5" font-weight="bold" fill="#595959" stroke="#595959" stroke-width="0.22" text-anchor="middle" textLength="15.3" lengthAdjust="spacingAndGlyphs">2015</text>
<text x="368.82" y="689.50" font-family="Liberation Sans, sans-serif" font-size="7.5" font-weight="bold" fill="#595959" stroke="#595959" stroke-width="0.22" text-anchor="middle" textLength="15.3" lengthAdjust="spacingAndGlyphs">2016</text>
<text x="418.85" y="689.50" font-family="Liberation Sans, sans-serif" font-size="7.5" font-weight="bold" fill="#595959" stroke="#595959" stroke-width="0.22" text-anchor="middle" textLength="15.3" lengthAdjust="spacingAndGlyphs">2017</text>
<text x="468.88" y="689.50" font-family="Liberation Sans, sans-serif" font-size="7.5" font-weight="bold" fill="#595959" stroke="#595959" stroke-width="0.22" text-anchor="middle" textLength="15.3" lengthAdjust="spacingAndGlyphs">2018</text>
<text x="518.92" y="689.50" font-family="Liberation Sans, sans-serif" font-size="7.5" font-weight="bold" fill="#595959" stroke="#595959" stroke-width="0.22" text-anchor="middle" textLength="15.3" lengthAdjust="spacingAndGlyphs">2019</text>
<text x="568.95" y="689.50" font-family="Liberation Sans, sans-serif" font-size="7.5" font-weight="bold" fill="#595959" stroke="#595959" stroke-width="0.22" text-anchor="middle" textLength="15.3" lengthAdjust="spacingAndGlyphs">2020</text>
<text x="618.98" y="689.50" font-family="Liberation Sans, sans-serif" font-size="7.5" font-weight="bold" fill="#595959" stroke="#595959" stroke-width="0.22" text-anchor="middle" textLength="15.3" lengthAdjust="spacingAndGlyphs">2021</text>
<text x="344.30" y="702.10" font-family="Liberation Sans, sans-serif" font-size="8.4" font-weight="bold" fill="#595959" stroke="#595959" stroke-width="0.28" text-anchor="middle" textLength="15.4" lengthAdjust="spacingAndGlyphs">year</text>
<text x="57.50" y="415.20" font-family="Liberation Sans, sans-serif" font-size="16.6" font-weight="bold" fill="#555" stroke="#555" stroke-width="0.45" textLength="18.8" lengthAdjust="spacingAndGlyphs">(b)</text>
<text transform="translate(22.35 540.85) rotate(-90)" x="0" y="0" font-family="Liberation Sans, sans-serif" font-size="8.4" font-weight="bold" fill="#595959" stroke="#595959" stroke-width="0.28" text-anchor="middle" textLength="213.4" lengthAdjust="spacingAndGlyphs">Mean attributable propotion of deaths, all natural causes (%)</text>
<text transform="translate(663.70 541.00) rotate(90)" x="0" y="0" font-family="Liberation Sans, sans-serif" font-size="8.4" font-weight="bold" fill="#0070C0" stroke="#0070C0" stroke-width="0.28" text-anchor="middle" textLength="126" lengthAdjust="spacingAndGlyphs">Mean PM2.5 concentration (ug/m3)</text>
<rect x="2.0" y="723.2" width="678.6" height="347.3" fill="#fff" stroke="#e9e9e9" stroke-width="1"/>
<rect x="46.47" y="855.23" width="41.5" height="177.97" fill="#bfbfbf" stroke="#5e5e5e" stroke-width="1"/>
<rect x="96.50" y="874.30" width="41.5" height="158.90" fill="#bfbfbf" stroke="#5e5e5e" stroke-width="1"/>
<rect x="146.53" y="893.37" width="41.5" height="139.83" fill="#bfbfbf" stroke="#5e5e5e" stroke-width="1"/>
<rect x="196.57" y="846.15" width="41.5" height="187.05" fill="#bfbfbf" stroke="#5e5e5e" stroke-width="1"/>
<rect x="246.60" y="900.63" width="41.5" height="132.57" fill="#bfbfbf" stroke="#5e5e5e" stroke-width="1"/>
<rect x="296.63" y="912.44" width="41.5" height="120.76" fill="#bfbfbf" stroke="#5e5e5e" stroke-width="1"/>
<rect x="346.67" y="900.63" width="41.5" height="132.57" fill="#bfbfbf" stroke="#5e5e5e" stroke-width="1"/>
<rect x="396.70" y="912.44" width="41.5" height="120.76" fill="#bfbfbf" stroke="#5e5e5e" stroke-width="1"/>
<rect x="446.73" y="865.22" width="41.5" height="167.98" fill="#bfbfbf" stroke="#5e5e5e" stroke-width="1"/>
<rect x="496.77" y="907.90" width="41.5" height="125.30" fill="#bfbfbf" stroke="#5e5e5e" stroke-width="1"/>
<rect x="546.80" y="899.72" width="41.5" height="133.48" fill="#bfbfbf" stroke="#5e5e5e" stroke-width="1"/>
<rect x="596.83" y="892.46" width="41.5" height="140.74" fill="#bfbfbf" stroke="#5e5e5e" stroke-width="1"/>
<path d="M41.85 760.80V1033.20H642.70V760.80" fill="none" stroke="#757575" stroke-width="1.15"/>
<polyline points="67.32,789.74 117.35,815.28 167.38,842.52 217.42,777.82 267.45,852.74 317.48,868.06 367.52,852.74 417.55,869.76 467.58,805.06 517.62,862.95 567.65,851.03 617.68,840.82" fill="none" stroke="#0070C0" stroke-width="1.9" stroke-linejoin="round" stroke-linecap="round"/>
<rect x="54.77" y="938.37" width="24.5" height="11.7" rx="0.3" fill="#fff" stroke="#484848" stroke-width="0.95"/>
<text x="66.92" y="947.17" font-family="Liberation Sans, sans-serif" font-size="7.7" font-weight="bold" fill="#383838" stroke="#383838" stroke-width="0.25" text-anchor="middle" textLength="18.6" lengthAdjust="spacingAndGlyphs">1.96%</text>
<rect x="104.80" y="947.90" width="24.5" height="11.7" rx="0.3" fill="#fff" stroke="#484848" stroke-width="0.95"/>
<text x="116.95" y="956.70" font-family="Liberation Sans, sans-serif" font-size="7.7" font-weight="bold" fill="#383838" stroke="#383838" stroke-width="0.25" text-anchor="middle" textLength="18.6" lengthAdjust="spacingAndGlyphs">1.75%</text>
<rect x="154.83" y="957.43" width="24.5" height="11.7" rx="0.3" fill="#fff" stroke="#484848" stroke-width="0.95"/>
<text x="166.98" y="966.23" font-family="Liberation Sans, sans-serif" font-size="7.7" font-weight="bold" fill="#383838" stroke="#383838" stroke-width="0.25" text-anchor="middle" textLength="18.6" lengthAdjust="spacingAndGlyphs">1.54%</text>
<rect x="204.87" y="933.83" width="24.5" height="11.7" rx="0.3" fill="#fff" stroke="#484848" stroke-width="0.95"/>
<text x="217.02" y="942.63" font-family="Liberation Sans, sans-serif" font-size="7.7" font-weight="bold" fill="#383838" stroke="#383838" stroke-width="0.25" text-anchor="middle" textLength="18.6" lengthAdjust="spacingAndGlyphs">2.06%</text>
<rect x="254.90" y="961.07" width="24.5" height="11.7" rx="0.3" fill="#fff" stroke="#484848" stroke-width="0.95"/>
<text x="267.05" y="969.87" font-family="Liberation Sans, sans-serif" font-size="7.7" font-weight="bold" fill="#383838" stroke="#383838" stroke-width="0.25" text-anchor="middle" textLength="18.6" lengthAdjust="spacingAndGlyphs">1.46%</text>
<rect x="304.93" y="966.97" width="24.5" height="11.7" rx="0.3" fill="#fff" stroke="#484848" stroke-width="0.95"/>
<text x="317.08" y="975.77" font-family="Liberation Sans, sans-serif" font-size="7.7" font-weight="bold" fill="#383838" stroke="#383838" stroke-width="0.25" text-anchor="middle" textLength="18.6" lengthAdjust="spacingAndGlyphs">1.33%</text>
<rect x="354.97" y="961.07" width="24.5" height="11.7" rx="0.3" fill="#fff" stroke="#484848" stroke-width="0.95"/>
<text x="367.12" y="969.87" font-family="Liberation Sans, sans-serif" font-size="7.7" font-weight="bold" fill="#383838" stroke="#383838" stroke-width="0.25" text-anchor="middle" textLength="18.6" lengthAdjust="spacingAndGlyphs">1.46%</text>
<rect x="405.00" y="966.97" width="24.5" height="11.7" rx="0.3" fill="#fff" stroke="#484848" stroke-width="0.95"/>
<text x="417.15" y="975.77" font-family="Liberation Sans, sans-serif" font-size="7.7" font-weight="bold" fill="#383838" stroke="#383838" stroke-width="0.25" text-anchor="middle" textLength="18.6" lengthAdjust="spacingAndGlyphs">1.33%</text>
<rect x="455.03" y="943.36" width="24.5" height="11.7" rx="0.3" fill="#fff" stroke="#484848" stroke-width="0.95"/>
<text x="467.18" y="952.16" font-family="Liberation Sans, sans-serif" font-size="7.7" font-weight="bold" fill="#383838" stroke="#383838" stroke-width="0.25" text-anchor="middle" textLength="18.6" lengthAdjust="spacingAndGlyphs">1.85%</text>
<rect x="505.07" y="964.70" width="24.5" height="11.7" rx="0.3" fill="#fff" stroke="#484848" stroke-width="0.95"/>
<text x="517.22" y="973.50" font-family="Liberation Sans, sans-serif" font-size="7.7" font-weight="bold" fill="#383838" stroke="#383838" stroke-width="0.25" text-anchor="middle" textLength="18.6" lengthAdjust="spacingAndGlyphs">1.38%</text>
<rect x="555.10" y="960.61" width="24.5" height="11.7" rx="0.3" fill="#fff" stroke="#484848" stroke-width="0.95"/>
<text x="567.25" y="969.41" font-family="Liberation Sans, sans-serif" font-size="7.7" font-weight="bold" fill="#383838" stroke="#383838" stroke-width="0.25" text-anchor="middle" textLength="18.6" lengthAdjust="spacingAndGlyphs">1.47%</text>
<rect x="605.13" y="956.98" width="24.5" height="11.7" rx="0.3" fill="#fff" stroke="#484848" stroke-width="0.95"/>
<text x="617.28" y="965.78" font-family="Liberation Sans, sans-serif" font-size="7.7" font-weight="bold" fill="#383838" stroke="#383838" stroke-width="0.25" text-anchor="middle" textLength="18.6" lengthAdjust="spacingAndGlyphs">1.55%</text>
<rect x="57.97" y="783.84" width="18.7" height="11.8" fill="#fff" stroke="#5c5c5c" stroke-width="0.9"/>
<text x="67.32" y="792.59" font-family="Liberation Sans, sans-serif" font-size="7.4" fill="#0070C0" stroke="#0070C0" stroke-width="0.25" text-anchor="middle" textLength="13.6" lengthAdjust="spacingAndGlyphs">14.3</text>
<rect x="108.00" y="809.38" width="18.7" height="11.8" fill="#fff" stroke="#5c5c5c" stroke-width="0.9"/>
<text x="117.35" y="818.13" font-family="Liberation Sans, sans-serif" font-size="7.4" fill="#0070C0" stroke="#0070C0" stroke-width="0.25" text-anchor="middle" textLength="13.6" lengthAdjust="spacingAndGlyphs">12.8</text>
<rect x="158.03" y="836.62" width="18.7" height="11.8" fill="#fff" stroke="#5c5c5c" stroke-width="0.9"/>
<text x="167.38" y="845.37" font-family="Liberation Sans, sans-serif" font-size="7.4" fill="#0070C0" stroke="#0070C0" stroke-width="0.25" text-anchor="middle" textLength="13.6" lengthAdjust="spacingAndGlyphs">11.2</text>
<rect x="208.07" y="771.92" width="18.7" height="11.8" fill="#fff" stroke="#5c5c5c" stroke-width="0.9"/>
<text x="217.42" y="780.67" font-family="Liberation Sans, sans-serif" font-size="7.4" fill="#0070C0" stroke="#0070C0" stroke-width="0.25" text-anchor="middle" textLength="13.6" lengthAdjust="spacingAndGlyphs">15.0</text>
<rect x="258.10" y="846.84" width="18.7" height="11.8" fill="#fff" stroke="#5c5c5c" stroke-width="0.9"/>
<text x="267.45" y="855.59" font-family="Liberation Sans, sans-serif" font-size="7.4" fill="#0070C0" stroke="#0070C0" stroke-width="0.25" text-anchor="middle" textLength="13.6" lengthAdjust="spacingAndGlyphs">10.6</text>
<rect x="309.98" y="862.16" width="15.0" height="11.8" fill="#fff" stroke="#5c5c5c" stroke-width="0.9"/>
<text x="317.48" y="870.91" font-family="Liberation Sans, sans-serif" font-size="7.4" fill="#0070C0" stroke="#0070C0" stroke-width="0.25" text-anchor="middle" textLength="9.8" lengthAdjust="spacingAndGlyphs">9.7</text>
<rect x="358.17" y="846.84" width="18.7" height="11.8" fill="#fff" stroke="#5c5c5c" stroke-width="0.9"/>
<text x="367.52" y="855.59" font-family="Liberation Sans, sans-serif" font-size="7.4" fill="#0070C0" stroke="#0070C0" stroke-width="0.25" text-anchor="middle" textLength="13.6" lengthAdjust="spacingAndGlyphs">10.6</text>
<rect x="410.05" y="863.86" width="15.0" height="11.8" fill="#fff" stroke="#5c5c5c" stroke-width="0.9"/>
<text x="417.55" y="872.61" font-family="Liberation Sans, sans-serif" font-size="7.4" fill="#0070C0" stroke="#0070C0" stroke-width="0.25" text-anchor="middle" textLength="9.8" lengthAdjust="spacingAndGlyphs">9.6</text>
<rect x="458.23" y="799.16" width="18.7" height="11.8" fill="#fff" stroke="#5c5c5c" stroke-width="0.9"/>
<text x="467.58" y="807.91" font-family="Liberation Sans, sans-serif" font-size="7.4" fill="#0070C0" stroke="#0070C0" stroke-width="0.25" text-anchor="middle" textLength="13.6" lengthAdjust="spacingAndGlyphs">13.4</text>
<rect x="508.27" y="857.05" width="18.7" height="11.8" fill="#fff" stroke="#5c5c5c" stroke-width="0.9"/>
<text x="517.62" y="865.80" font-family="Liberation Sans, sans-serif" font-size="7.4" fill="#0070C0" stroke="#0070C0" stroke-width="0.25" text-anchor="middle" textLength="13.6" lengthAdjust="spacingAndGlyphs">10.0</text>
<rect x="558.30" y="845.13" width="18.7" height="11.8" fill="#fff" stroke="#5c5c5c" stroke-width="0.9"/>
<text x="567.65" y="853.88" font-family="Liberation Sans, sans-serif" font-size="7.4" fill="#0070C0" stroke="#0070C0" stroke-width="0.25" text-anchor="middle" textLength="13.6" lengthAdjust="spacingAndGlyphs">10.7</text>
<rect x="608.33" y="834.92" width="18.7" height="11.8" fill="#fff" stroke="#5c5c5c" stroke-width="0.9"/>
<text x="617.68" y="843.67" font-family="Liberation Sans, sans-serif" font-size="7.4" fill="#0070C0" stroke="#0070C0" stroke-width="0.25" text-anchor="middle" textLength="13.6" lengthAdjust="spacingAndGlyphs">11.3</text>
<text x="34.90" y="1035.70" font-family="Liberation Sans, sans-serif" font-size="7.5" font-weight="bold" fill="#595959" stroke="#595959" stroke-width="0.22" text-anchor="end" textLength="9.5" lengthAdjust="spacingAndGlyphs">0%</text>
<text x="34.90" y="944.90" font-family="Liberation Sans, sans-serif" font-size="7.5" font-weight="bold" fill="#595959" stroke="#595959" stroke-width="0.22" text-anchor="end" textLength="9.5" lengthAdjust="spacingAndGlyphs">1%</text>
<text x="34.90" y="854.10" font-family="Liberation Sans, sans-serif" font-size="7.5" font-weight="bold" fill="#595959" stroke="#595959" stroke-width="0.22" text-anchor="end" textLength="9.5" lengthAdjust="spacingAndGlyphs">2%</text>
<text x="34.90" y="763.30" font-family="Liberation Sans, sans-serif" font-size="7.5" font-weight="bold" fill="#595959" stroke="#595959" stroke-width="0.22" text-anchor="end" textLength="9.5" lengthAdjust="spacingAndGlyphs">3%</text>
<text x="649.50" y="1035.45" font-family="Liberation Sans, sans-serif" font-size="7.5" font-weight="bold" fill="#0070C0" stroke="#0070C0" stroke-width="0.22" textLength="3.9" lengthAdjust="spacingAndGlyphs">0</text>
<text x="649.50" y="1001.40" font-family="Liberation Sans, sans-serif" font-size="7.5" font-weight="bold" fill="#0070C0" stroke="#0070C0" stroke-width="0.22" textLength="3.9" lengthAdjust="spacingAndGlyphs">2</text>
<text x="649.50" y="967.35" font-family="Liberation Sans, sans-serif" font-size="7.5" font-weight="bold" fill="#0070C0" stroke="#0070C0" stroke-width="0.22" textLength="3.9" lengthAdjust="spacingAndGlyphs">4</text>
<text x="649.50" y="933.30" font-family="Liberation Sans, sans-serif" font-size="7.5" font-weight="bold" fill="#0070C0" stroke="#0070C0" stroke-width="0.22" textLength="3.9" lengthAdjust="spacingAndGlyphs">6</text>
<text x="649.50" y="899.25" font-family="Liberation Sans, sans-serif" font-size="7.5" font-weight="bold" fill="#0070C0" stroke="#0070C0" stroke-width="0.22" textLength="3.9" lengthAdjust="spacingAndGlyphs">8</text>
<text x="649.50" y="865.20" font-family="Liberation Sans, sans-serif" font-size="7.5" font-weight="bold" fill="#0070C0" stroke="#0070C0" stroke-width="0.22" textLength="7.8" lengthAdjust="spacingAndGlyphs">10</text>
<text x="649.50" y="831.15" font-family="Liberation Sans, sans-serif" font-size="7.5" font-weight="bold" fill="#0070C0" stroke="#0070C0" stroke-width="0.22" textLength="7.8" lengthAdjust="spacingAndGlyphs">12</text>
<text x="649.50" y="797.10" font-family="Liberation Sans, sans-serif" font-size="7.5" font-weight="bold" fill="#0070C0" stroke="#0070C0" stroke-width="0.22" textLength="7.8" lengthAdjust="spacingAndGlyphs">14</text>
<text x="649.50" y="763.05" font-family="Liberation Sans, sans-serif" font-size="7.5" font-weight="bold" fill="#0070C0" stroke="#0070C0" stroke-width="0.22" textLength="7.8" lengthAdjust="spacingAndGlyphs">16</text>
<text x="66.82" y="1045.40" font-family="Liberation Sans, sans-serif" font-size="7.5" font-weight="bold" fill="#595959" stroke="#595959" stroke-width="0.22" text-anchor="middle" textLength="15.3" lengthAdjust="spacingAndGlyphs">2010</text>
<text x="116.85" y="1045.40" font-family="Liberation Sans, sans-serif" font-size="7.5" font-weight="bold" fill="#595959" stroke="#595959" stroke-width="0.22" text-anchor="middle" textLength="15.3" lengthAdjust="spacingAndGlyphs">2011</text>
<text x="166.88" y="1045.40" font-family="Liberation Sans, sans-serif" font-size="7.5" font-weight="bold" fill="#595959" stroke="#595959" stroke-width="0.22" text-anchor="middle" textLength="15.3" lengthAdjust="spacingAndGlyphs">2012</text>
<text x="216.92" y="1045.40" font-family="Liberation Sans, sans-serif" font-size="7.5" font-weight="bold" fill="#595959" stroke="#595959" stroke-width="0.22" text-anchor="middle" textLength="15.3" lengthAdjust="spacingAndGlyphs">2013</text>
<text x="266.95" y="1045.40" font-family="Liberation Sans, sans-serif" font-size="7.5" font-weight="bold" fill="#595959" stroke="#595959" stroke-width="0.22" text-anchor="middle" textLength="15.3" lengthAdjust="spacingAndGlyphs">2014</text>
<text x="316.98" y="1045.40" font-family="Liberation Sans, sans-serif" font-size="7.5" font-weight="bold" fill="#595959" stroke="#595959" stroke-width="0.22" text-anchor="middle" textLength="15.3" lengthAdjust="spacingAndGlyphs">2015</text>
<text x="367.02" y="1045.40" font-family="Liberation Sans, sans-serif" font-size="7.5" font-weight="bold" fill="#595959" stroke="#595959" stroke-width="0.22" text-anchor="middle" textLength="15.3" lengthAdjust="spacingAndGlyphs">2016</text>
<text x="417.05" y="1045.40" font-family="Liberation Sans, sans-serif" font-size="7.5" font-weight="bold" fill="#595959" stroke="#595959" stroke-width="0.22" text-anchor="middle" textLength="15.3" lengthAdjust="spacingAndGlyphs">2017</text>
<text x="467.08" y="1045.40" font-family="Liberation Sans, sans-serif" font-size="7.5" font-weight="bold" fill="#595959" stroke="#595959" stroke-width="0.22" text-anchor="middle" textLength="15.3" lengthAdjust="spacingAndGlyphs">2018</text>
<text x="517.12" y="1045.40" font-family="Liberation Sans, sans-serif" font-size="7.5" font-weight="bold" fill="#595959" stroke="#595959" stroke-width="0.22" text-anchor="middle" textLength="15.3" lengthAdjust="spacingAndGlyphs">2019</text>
<text x="567.15" y="1045.40" font-family="Liberation Sans, sans-serif" font-size="7.5" font-weight="bold" fill="#595959" stroke="#595959" stroke-width="0.22" text-anchor="middle" textLength="15.3" lengthAdjust="spacingAndGlyphs">2020</text>
<text x="617.18" y="1045.40" font-family="Liberation Sans, sans-serif" font-size="7.5" font-weight="bold" fill="#595959" stroke="#595959" stroke-width="0.22" text-anchor="middle" textLength="15.3" lengthAdjust="spacingAndGlyphs">2021</text>
<text x="342.50" y="1058.00" font-family="Liberation Sans, sans-serif" font-size="8.4" font-weight="bold" fill="#595959" stroke="#595959" stroke-width="0.28" text-anchor="middle" textLength="15.4" lengthAdjust="spacingAndGlyphs">year</text>
<text x="55.70" y="771.30" font-family="Liberation Sans, sans-serif" font-size="16.6" font-weight="bold" fill="#555" stroke="#555" stroke-width="0.45" textLength="16.6" lengthAdjust="spacingAndGlyphs">(c)</text>
<text transform="translate(20.55 896.85) rotate(-90)" x="0" y="0" font-family="Liberation Sans, sans-serif" font-size="8.4" font-weight="bold" fill="#595959" stroke="#595959" stroke-width="0.28" text-anchor="middle" textLength="223.6" lengthAdjust="spacingAndGlyphs">Mean attributable propotion of deaths, respiratory diseases (%)</text>
<text transform="translate(661.90 897.00) rotate(90)" x="0" y="0" font-family="Liberation Sans, sans-serif" font-size="8.4" font-weight="bold" fill="#0070C0" stroke="#0070C0" stroke-width="0.28" text-anchor="middle" textLength="122" lengthAdjust="spacingAndGlyphs">Mean SOMO35unc/Nvalid (ug/m3)</text>
</svg>
</body></html>
